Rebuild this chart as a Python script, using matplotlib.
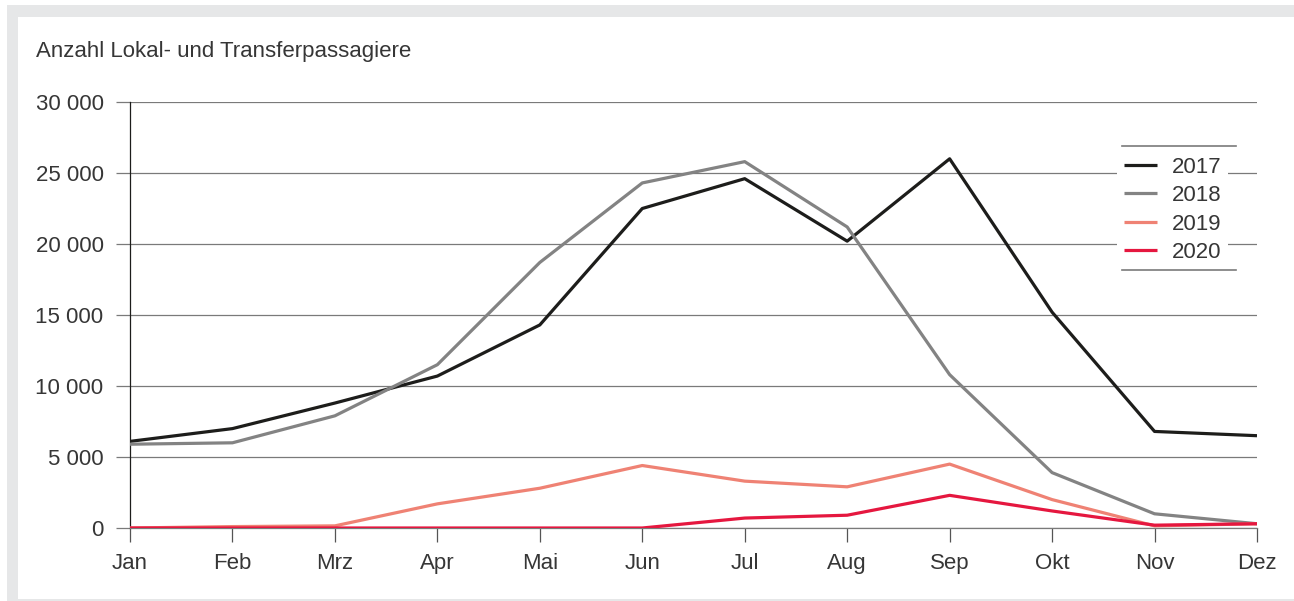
import numpy as np
import matplotlib
matplotlib.use("Agg")
import matplotlib.pyplot as plt
from matplotlib.patches import Rectangle
from matplotlib.lines import Line2D
from matplotlib.ticker import FuncFormatter

months = ["Jan", "Feb", "Mrz", "Apr", "Mai", "Jun", "Jul", "Aug", "Sep", "Okt", "Nov", "Dez"]
p2017 = [6100, 7000, 8800, 10700, 14300, 22500, 24600, 20200, 26000, 15200, 6800, 6500]
p2018 = [5900, 6000, 7900, 11500, 18700, 24300, 25800, 21200, 10800, 3900, 1000, 300]
p2019 = [0, 100, 150, 1700, 2800, 4400, 3300, 2900, 4500, 2000, 150, 300]
p2020 = [0, 0, 0, 0, 0, 0, 700, 900, 2300, 1200, 200, 300]

series = [("2017", p2017, "#1d1d1b"), ("2018", p2018, "#838383"),
          ("2019", p2019, "#ef8274"), ("2020", p2020, "#e5173f")]

plt.rcParams["font.family"] = ["Liberation Sans", "DejaVu Sans"]
txt = "#363636"
fs = 16

W, H = 1294, 601
fig = plt.figure(figsize=(W / 100, H / 100), dpi=100)
fig.patch.set_facecolor("white")

# grey frame around the panel
fig.patches.append(Rectangle((7 / W, 0), 1 - 7 / W, 1 - 5 / H, transform=fig.transFigure,
                             facecolor="#e6e7e8", edgecolor="none", zorder=-10))
fig.patches.append(Rectangle((18 / W, 2 / H), 1, 1 - 19 / H, transform=fig.transFigure,
                             facecolor="white", edgecolor="none", zorder=-9))

ax = fig.add_axes([130 / W, (H - 528) / H, (1257 - 130) / W, (528 - 102) / H])
ax.set_facecolor("none")

x = np.arange(len(months))
for name, vals, col in series:
    ax.plot(x, vals, color=col, lw=2.3, label=name, solid_capstyle="butt", zorder=3)

ax.set_xlim(0, 11)
ax.set_ylim(0, 30000)
ax.set_yticks(np.arange(0, 30001, 5000))
ax.yaxis.set_major_formatter(FuncFormatter(lambda v, p: f"{int(v):,}".replace(",", " ")))
ax.set_xticks(x)
ax.set_xticklabels(months)
ax.grid(axis="y", color="#7a7a7a", lw=0.9, zorder=1)

for s in ["top", "right"]:
    ax.spines[s].set_visible(False)
ax.spines["left"].set_color("#1d1d1b")
ax.spines["left"].set_linewidth(0.9)
ax.spines["bottom"].set_color("#7a7a7a")
ax.spines["bottom"].set_linewidth(0.9)

ax.tick_params(axis="y", length=10, width=0.9, color="#7a7a7a", labelsize=fs,
               labelcolor=txt, pad=9)
ax.tick_params(axis="x", length=10, width=0.9, color="#555555", labelsize=fs,
               labelcolor=txt, pad=8)

leg = ax.legend(loc="upper left", bbox_to_anchor=(0.866, 0.913), frameon=True,
                facecolor="white", edgecolor="none", framealpha=1, fancybox=False,
                fontsize=fs, handlelength=1.5, handletextpad=0.65,
                labelspacing=0.33, borderpad=0.3, labelcolor=txt)
leg.set_zorder(5)

for yy in [0.897, 0.606]:
    ax.add_line(Line2D([0.880, 0.981], [yy, yy], transform=ax.transAxes,
                       color="#7a7a7a", lw=1.2, zorder=6, clip_on=False))

fig.text(36 / W, 1 - 51 / H, "Anzahl Lokal- und Transferpassagiere", fontsize=fs,
         color=txt, ha="left", va="center")

plt.savefig("out.png", dpi=100, facecolor=fig.get_facecolor())
plt.close()
